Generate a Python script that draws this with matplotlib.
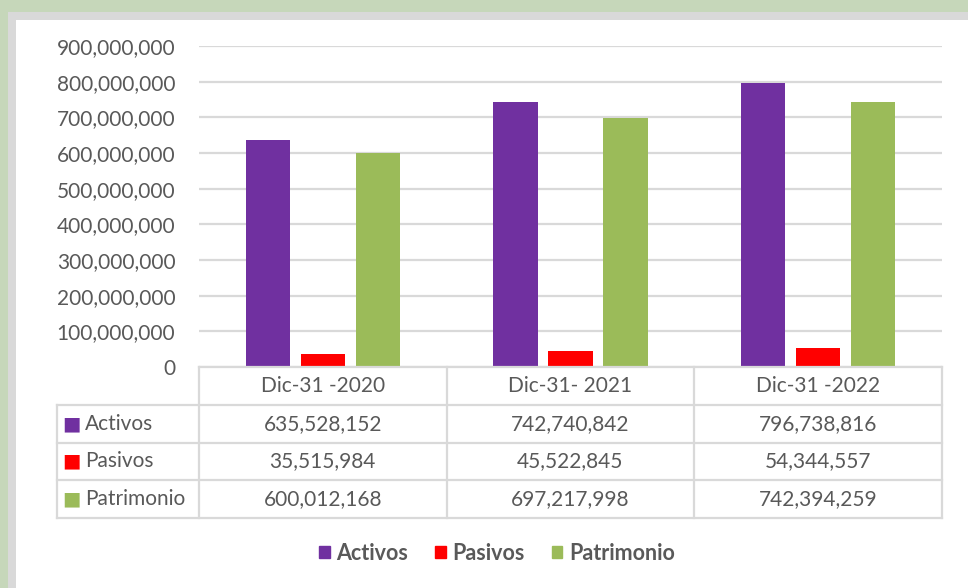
import numpy as np
import matplotlib.pyplot as plt
from matplotlib.patches import Rectangle
from matplotlib.ticker import FuncFormatter

categories = ['Dic-31 -2020', 'Dic-31- 2021', 'Dic-31 -2022']
series = ['Activos', 'Pasivos', 'Patrimonio']
activos = [635528152, 742740842, 796738816]
pasivos = [35515984, 45522845, 54344557]
patrimonio = [600012168, 697217998, 742394259]
colors = ['#7030A0', '#FF0000', '#9BBB59']

plt.rcParams['font.family'] = ['Lato', 'DejaVu Sans']
text_col = '#595959'
grid_col = '#D9D9D9'

W, H = 968, 588
fig = plt.figure(figsize=(W / 100, H / 100), dpi=100)


def fbox(x0, y0, x1, y1):
    # pixel box (top-left origin) -> figure fraction rect
    return [x0 / W, 1 - y1 / H, (x1 - x0) / W, (y1 - y0) / H]


# frame / shadow around the chart
for (x0, y0, x1, y1, c) in [(0, 0, W, 12, '#C6D7BA'), (0, 0, 8, H, '#C6D7BA'),
                            (8, 12, W, 20, '#D9D9D9'), (8, 12, 16, H, '#D9D9D9'),
                            (16, 20, W, H, 'white')]:
    l, b, w, h = fbox(x0, y0, x1, y1)
    fig.patches.append(Rectangle((l, b), w, h, transform=fig.transFigure,
                                 facecolor=c, edgecolor='none', zorder=-10))

# bar axes
ax = fig.add_axes(fbox(199, 46, 942, 367))
ax.set_zorder(2)
ax.patch.set_alpha(0)
x = np.arange(len(categories))
bw = 0.178
step = 0.222
for i, (vals, c) in enumerate(zip([activos, pasivos, patrimonio], colors)):
    ax.bar(x + (i - 1) * step, vals, width=bw, color=c, zorder=3)
ax.set_xlim(-0.5, 2.5)
ax.set_ylim(0, 900000000)
ax.set_yticks(np.arange(0, 900000001, 100000000))
ax.yaxis.set_major_formatter(FuncFormatter(lambda v, p: f'{int(v):,}'))
ax.tick_params(axis='y', length=0, pad=17, labelsize=15, labelcolor=text_col)
ax.set_xticks([])
ax.grid(axis='y', color=grid_col, linewidth=1.6, zorder=0)
for s in ax.spines.values():
    s.set_visible(False)

# data table below the bars
tx0 = -0.5 - 142 / 248
tab = fig.add_axes(fbox(57, 367, 942, 518))
tab.set_zorder(2)
tab.set_xlim(tx0, 2.5)
tab.set_ylim(4, 0)
tab.axis('off')
lw = 1.6
# horizontal lines
tab.plot([-0.5, 2.5], [0, 0], color=grid_col, lw=lw, clip_on=False)
for r in [1, 2, 3, 4]:
    tab.plot([tx0, 2.5], [r, r], color=grid_col, lw=lw, clip_on=False)
# vertical lines
tab.plot([tx0, tx0], [1, 4], color=grid_col, lw=lw, clip_on=False)
for v in [-0.5, 0.5, 1.5, 2.5]:
    tab.plot([v, v], [0, 4], color=grid_col, lw=lw, clip_on=False)

for j, cat in enumerate(categories):
    tab.text(j, 0.5, cat, ha='center', va='center', fontsize=15, color=text_col)
for i, (name, vals, c) in enumerate(zip(series, [activos, pasivos, patrimonio], colors)):
    tab.text(tx0 + 0.02, i + 1.5, '\u25A0', ha='left', va='center', fontsize=14,
             color=c, family='DejaVu Sans')
    tab.text(tx0 + 0.113, i + 1.5, name, ha='left', va='center', fontsize=15, color=text_col)
    for j, v in enumerate(vals):
        tab.text(j, i + 1.5, f'{v:,}', ha='center', va='center', fontsize=15, color=text_col)

# legend
handles = [Rectangle((0, 0), 1, 1, color=c) for c in colors]
fig.legend(handles, series, loc='center', bbox_to_anchor=(497 / W, 1 - 553 / H),
           ncol=3, frameon=False, handlelength=0.5, handleheight=0.5,
           handletextpad=0.3, columnspacing=1.25,
           prop={'size': 15.5, 'weight': 'bold'}, labelcolor=text_col)

fig.savefig('out.png', dpi=100)
